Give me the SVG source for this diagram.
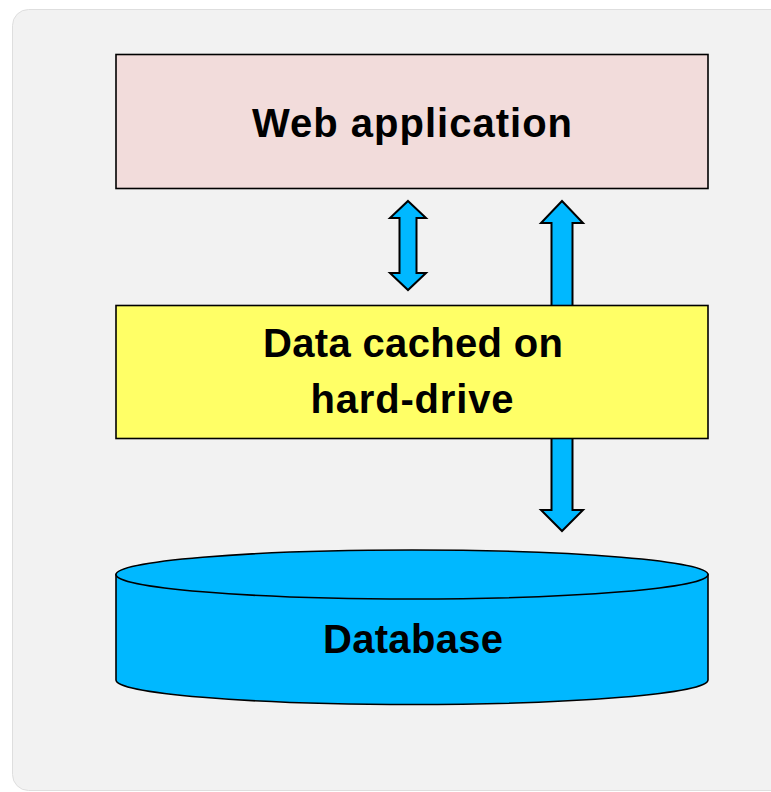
<svg xmlns="http://www.w3.org/2000/svg" width="771" height="792" viewBox="0 0 771 792">
<style>
.lbl{font-family:"Liberation Sans",Arial,sans-serif;font-weight:bold;font-size:40px;fill:#000;text-anchor:middle}
.box{stroke:#000;stroke-width:1.6}
.arr{fill:#00b8ff;stroke:#000;stroke-width:2;stroke-linejoin:miter}
</style>
<rect x="12.5" y="9.5" width="780" height="781" rx="16" fill="#f2f2f2" stroke="#dedede" stroke-width="1"/>
<g id="connectors">
<polygon class="arr" points="408,201 426,218 416.5,218 416.5,273 426,273 408,290 390,273 399.5,273 399.5,218 390,218"/>
<polygon class="arr" points="562,201 583,223 572.5,223 572.5,510 583,510 562,531 541,510 551.5,510 551.5,223 541,223"/>
</g>
<g id="web-application">
<rect class="box" x="116" y="54.5" width="592" height="134" fill="#f2dcdb"/>
<text class="lbl" x="412" y="137" textLength="320">Web application</text>
</g>
<g id="cache">
<rect class="box" x="116" y="305.5" width="592" height="133" fill="#ffff66"/>
<text class="lbl" x="413" y="357" textLength="300">Data cached on</text>
<text class="lbl" x="412" y="413" textLength="203">hard-drive</text>
</g>
<g id="database">
<path class="box" d="M116,574.5 L116,680 A296,24.5 0 0 0 708,680 L708,574.5 Z" fill="#00b8ff"/>
<ellipse class="box" cx="412" cy="574.5" rx="296" ry="24.5" fill="#00b8ff"/>
<text class="lbl" x="413" y="653" textLength="180">Database</text>
</g>
</svg>
